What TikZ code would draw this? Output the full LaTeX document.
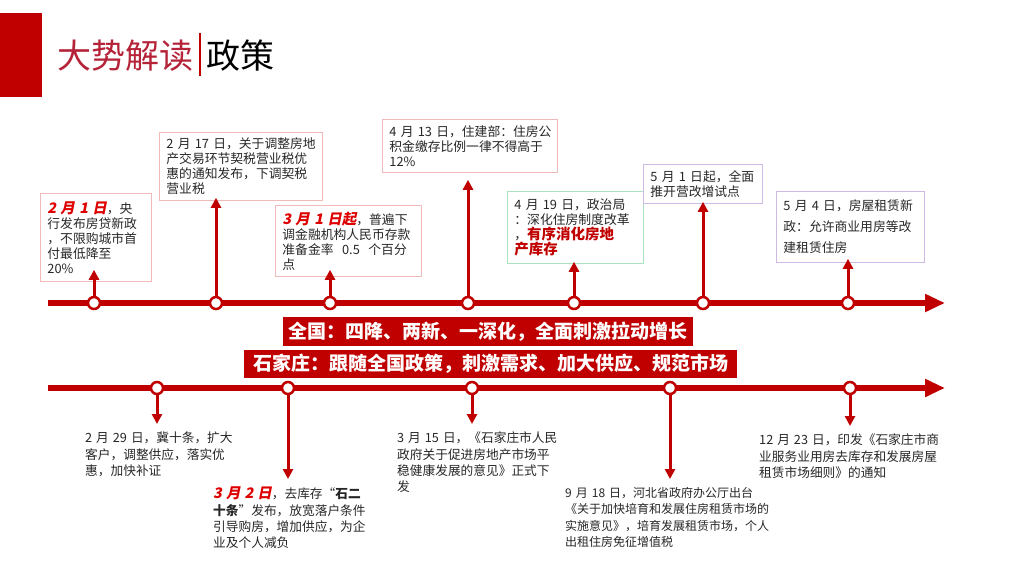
\documentclass[tikz,border=0pt]{standalone}
\usepackage{fontspec}
\setmainfont{Noto Sans CJK SC}
\newfontfamily\slantfont{Noto Sans CJK SC}[FakeSlant=0.2]
\definecolor{MainRed}{RGB}{192,0,0}
\definecolor{TitleRed}{RGB}{180,35,55}
\definecolor{HiRed}{RGB}{222,0,0}
\definecolor{TextGray}{RGB}{38,38,38}
\definecolor{BoxPink}{RGB}{242,185,185}
\definecolor{BoxGreen}{RGB}{170,225,190}
\definecolor{BoxPurple}{RGB}{205,185,228}
\usetikzlibrary{arrows.meta,positioning}
\newcommand{\hldate}[1]{{\color{HiRed}\slantfont\bfseries\fontsize{14.5}{15}\selectfont #1}}
\newcommand{\hlred}[1]{{\color{MainRed}\bfseries\fontsize{14.5}{15}\selectfont #1}}
\newcommand{\widesp}{\spaceskip=4pt plus 1pt\relax}

\begin{document}
\begin{tikzpicture}[x=1pt,y=-1pt,
  dot/.style={circle,draw=MainRed,fill=white,line width=2.5pt,minimum size=12pt,inner sep=0pt},
  note/.style={draw=BoxPink,line width=0.8pt,anchor=north west,align=left,inner xsep=7pt,inner ysep=0pt,
    font=\fontsize{12.8}{15}\selectfont,text=TextGray},
  plain/.style={anchor=north west,align=left,inner sep=0pt,
    font=\fontsize{12.7}{16.3}\selectfont\widesp,text=TextGray},
  axis/.style={MainRed,line width=6pt,-{Triangle[length=20pt,width=17pt]}},
  up/.style={MainRed,line width=3pt,-{Triangle[length=10pt,width=10pt]}},
  banner/.style={fill=MainRed,text=white,font=\fontsize{19}{22}\selectfont\bfseries,inner sep=0pt}]
\useasboundingbox (0,0) rectangle (1024,576);
% title
\fill[MainRed] (0,13) rectangle (42,97);
\node[anchor=west,inner sep=0pt,text=TitleRed,font=\fontsize{34}{36}\selectfont] (ttl) at (57,56) {大势解读};
\draw[MainRed,line width=2pt] (200,33) -- (200,76);
\node[anchor=west,inner sep=0pt,font=\fontsize{34}{36}\selectfont] (sub) at (206,56) {政策};
% national timeline
\draw[axis] (48,303) -- (945,303);
\foreach \i/\x in {1/94,2/216,3/330,4/468,5/574,6/703,7/848}
  \node[dot] (n\i) at (\x,303) {};
% Shijiazhuang timeline
\draw[axis] (48,388) -- (945,388);
\foreach \i/\x in {1/157,2/288,3/472,4/670,5/850}
  \node[dot] (s\i) at (\x,388) {};
% banners
\node[banner,minimum width=410pt,minimum height=29pt] (bn1) at (488,331.5) {全国：四降、两新、一深化，全面刺激拉动增长};
\node[banner,minimum width=493pt,minimum height=28pt] (bn2) at (490.5,364) {石家庄：跟随全国政策，刺激需求、加大供应、规范市场};
% national notes
\node[note,text width=97pt,minimum height=88pt] (t1) at (40,193)
  {\hldate{2~月~1~日}，央\\行发布房贷新政\\，不限购城市首\\付最低降至\\20\%};
\node[note,text width=149pt,minimum height=68pt] (t2) at (159,132)
  {2~月~17~日，关于调整房地\\产交易环节契税营业税优\\惠的通知发布，下调契税\\营业税};
\node[note,text width=132pt,minimum height=71pt] (t3) at (275,205)
  {\hldate{3~月~1~日起}，普遍下\\调金融机构人民币存款\\准备金率~~0.5~~个百分\\点};
\node[note,text width=161pt,minimum height=53pt] (t4) at (382,119)
  {4~月~13~日，住建部：住房公\\积金缴存比例一律不得高于\\12\%};
\node[note,draw=BoxGreen,text width=122pt,minimum height=72pt] (t5) at (507,191)
  {4~月~19~日，政治局\\：深化住房制度改革\\，\hlred{有序消化房地}\\\hlred{产库存}};
\node[note,draw=BoxPurple,text width=105pt,minimum height=39pt] (t6) at (643,164)
  {5~月~1~日起，全面\\推开营改增试点};
\node[note,draw=BoxPurple,text width=134pt,minimum height=71pt,font=\fontsize{12.8}{21}\selectfont] (t7) at (776,191)
  {5~月~4~日，房屋租赁新\\政：允许商业用房等改\\建租赁住房};
% Shijiazhuang notes
\node[plain] (d1) at (85,432) {2 月 29 日，冀十条，扩大\\客户，调整供应，落实优\\惠，加快补证};
\node[plain] (d2) at (213,487) {\hldate{3 月 2 日}，去库存“{\bfseries 石二}\\{\bfseries 十条}”发布，放宽落户条件\\引导购房，增加供应，为企\\业及个人减负};
\node[plain] (d3) at (397,432) {3 月 15 日，《石家庄市人民\\政府关于促进房地产市场平\\稳健康发展的意见》正式下\\发};
\node[plain,font=\fontsize{12}{16.3}\selectfont\widesp] (d4) at (565,487) {9 月 18 日，河北省政府办公厅出台\\《关于加快培育和发展住房租赁市场的\\实施意见》，培育发展租赁市场，个人\\出租住房免征增值税};
\node[plain] (d5) at (759,434) {12 月 23 日，印发《石家庄市商\\业服务业用房去库存和发展房屋\\租赁市场细则》的通知};
% connectors
\draw[up,shorten >=-12pt] (n1.north) -- (n1 |- t1.south);
\draw[up,shorten >=-3pt] (n2.north) -- (n2 |- t2.south);
\draw[up,shorten >=-7pt] (n3.north) -- (n3 |- t3.south);
\draw[up,shorten >=7pt] (n4.north) -- (n4 |- t4.south);
\draw[up,shorten >=-2pt] (n5.north) -- (n5 |- t5.south);
\draw[up,shorten >=-2pt] (n6.north) -- (n6 |- t6.south);
\draw[up,shorten >=-4pt] (n7.north) -- (n7 |- t7.south);
\foreach \i in {1,...,5}
  \draw[up,shorten >=8pt] (s\i.south) -- (s\i |- d\i.north);
\end{tikzpicture}
\end{document}
